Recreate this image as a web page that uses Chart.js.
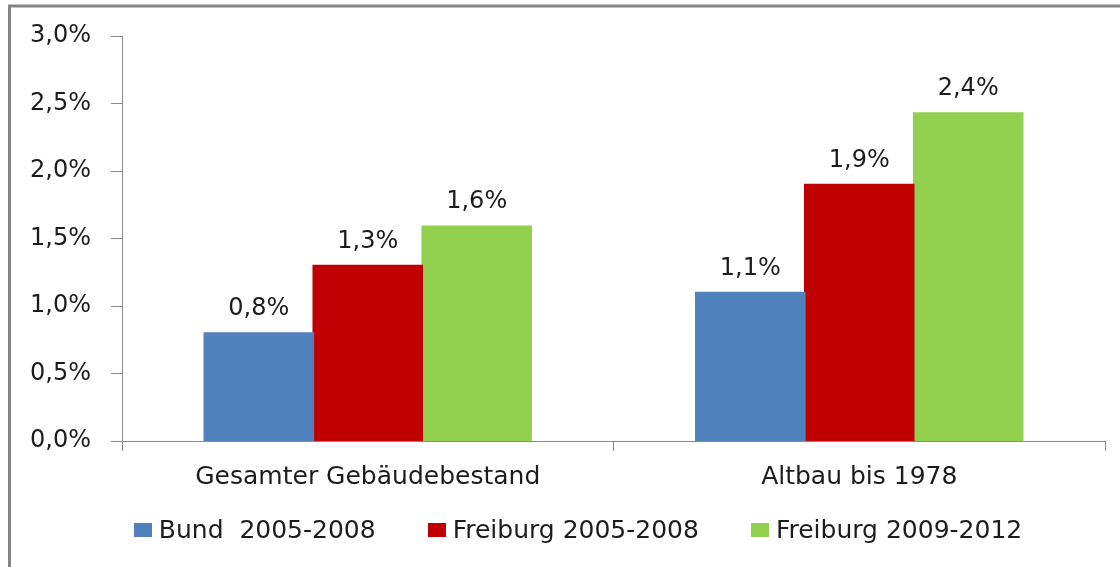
<!DOCTYPE html>
<html lang="de">
<head>
<meta charset="utf-8">
<title>Sanierungsrate</title>
<script src="https://cdn.jsdelivr.net/npm/chart.js@4/dist/chart.umd.min.js"></script>
<style>
  html, body { margin: 0; padding: 0; background: #fff; }
  #wrap { position: relative; width: 1120px; height: 567px; overflow: hidden; }
  #legend {
    position: absolute; left: 0; top: 515px; width: 1156px; height: 30px;
    display: flex; justify-content: center; align-items: flex-start;
    font: 25px "DejaVu Sans", sans-serif; line-height: 30px; color: #1c1c1c;
  }
  .legend-item { display: flex; align-items: flex-start; margin: 0 26px; white-space: pre; }
  .legend-box { width: 18px; height: 14px; margin: 8px 7px 0 0; }
</style>
</head>
<body>
<div id="wrap">
  <canvas id="chart" width="1120" height="567"></canvas>
  <div id="legend"></div>
</div>
<script>
// ── Daten ──────────────────────────────────────────────────────────────────
const categories = ['Gesamter Gebäudebestand', 'Altbau bis 1978'];
const seriesNames = ['Bund  2005-2008', 'Freiburg 2005-2008', 'Freiburg 2009-2012'];
const bund0508     = [0.80, 1.10];
const freiburg0508 = [1.30, 1.90];
const freiburg0912 = [1.59, 2.43];
const yTicks = [0, 0.5, 1.0, 1.5, 2.0, 2.5, 3.0];

const COLORS = ['#4f81bd', '#c00000', '#92d050'];
const AXIS   = '#8a8a8a';
const TEXT   = '#1c1c1c';
const FONT   = '"DejaVu Sans", sans-serif';

const pct = v => v.toFixed(1).replace('.', ',') + '%';

// ── Plugins ────────────────────────────────────────────────────────────────
const frame = {
  id: 'frame',
  beforeDraw(chart) {
    const ctx = chart.ctx;
    ctx.save();
    ctx.strokeStyle = '#868686';
    ctx.lineWidth = 3;
    ctx.beginPath();
    ctx.moveTo(9.5, chart.height);
    ctx.lineTo(9.5, 6);
    ctx.lineTo(chart.width, 6);
    ctx.stroke();
    ctx.restore();
  },
};

const valueLabels = {
  id: 'valueLabels',
  afterDatasetsDraw(chart) {
    const ctx = chart.ctx;
    ctx.save();
    ctx.font = `24px ${FONT}`;
    ctx.fillStyle = TEXT;
    ctx.textAlign = 'center';
    ctx.textBaseline = 'alphabetic';
    chart.data.datasets.forEach((ds, i) => {
      chart.getDatasetMeta(i).data.forEach((bar, j) => {
        ctx.fillText(pct(ds.data[j]), bar.x, bar.y - 18);
      });
    });
    ctx.restore();
  },
};

// ── Chart ──────────────────────────────────────────────────────────────────
const seriesData = [bund0508, freiburg0508, freiburg0912];

new Chart(document.getElementById('chart'), {
  type: 'bar',
  data: {
    labels: categories,
    datasets: seriesData.map((d, i) => ({
      label: seriesNames[i],
      data: d,
      backgroundColor: COLORS[i],
      borderWidth: 0,
      inflateAmount: 0.8,
      barPercentage: 1,
      categoryPercentage: 0.665,
    })),
  },
  options: {
    responsive: false, animation: false, devicePixelRatio: 1,
    layout: { padding: { top: 36, right: 15, bottom: 76, left: 0 } },
    plugins: { legend: { display: false }, tooltip: { enabled: false } },
    scales: {
      x: {
        grid: { drawOnChartArea: false, tickLength: 10, color: AXIS, offset: true },
        border: { color: AXIS },
        ticks: { font: { family: FONT, size: 25 }, color: TEXT, padding: 11 },
        afterFit: s => { s.height = 50; },
      },
      y: {
        min: 0, max: 3,
        afterBuildTicks: s => { s.ticks = yTicks.map(v => ({ value: v })); },
        grid: { drawOnChartArea: false, tickLength: 11, color: AXIS },
        border: { color: AXIS },
        ticks: { font: { family: FONT, size: 24 }, color: TEXT, padding: 20, callback: v => pct(v) },
        afterFit: s => { s.width = 122; },
      },
    },
  },
  plugins: [frame, valueLabels],
});

// ── Legende (HTML) ─────────────────────────────────────────────────────────
document.getElementById('legend').innerHTML = seriesNames.map((name, i) => `
  <div class="legend-item">
    <div class="legend-box" style="background:${COLORS[i]}"></div><span>${name}</span>
  </div>`).join('');
</script>
</body>
</html>
